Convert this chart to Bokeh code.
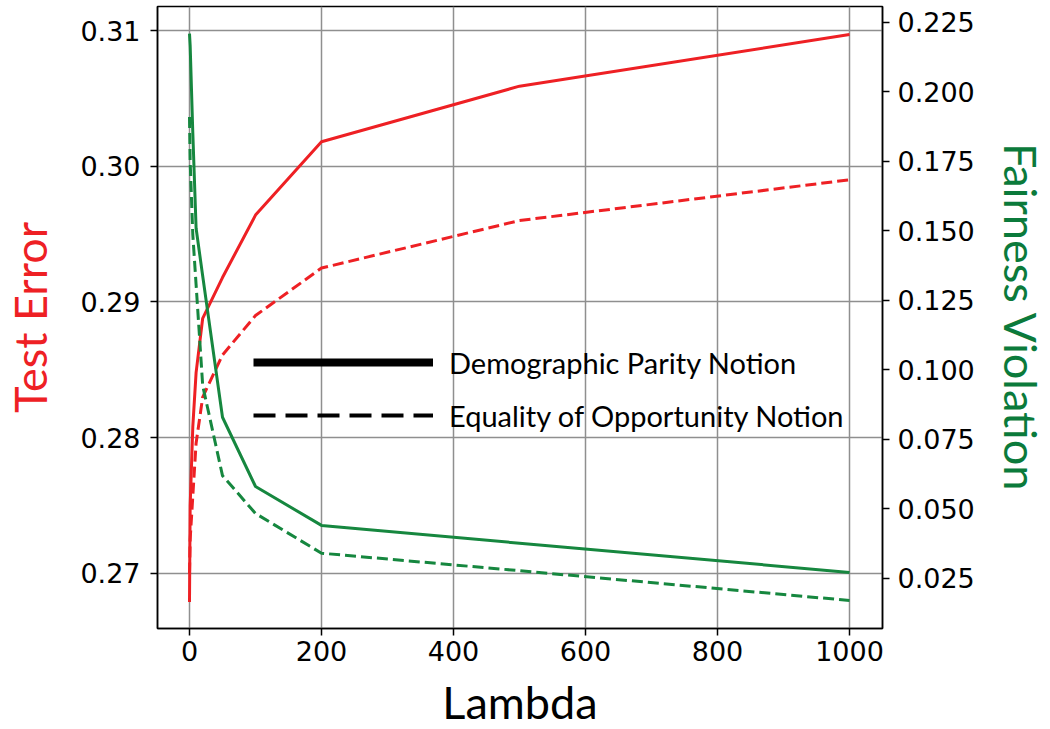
import math
from bokeh.plotting import figure
from bokeh.models import (Range1d, LinearAxis, FixedTicker, NumeralTickFormatter,
                          Legend, LegendItem)
from bokeh.embed import file_html
from bokeh.resources import INLINE

# ---- data ----
lambdas = [0, 1, 5, 10, 20, 50, 100, 200, 500, 1000]
err_dp = [0.2679, 0.2750, 0.2808, 0.2848, 0.2888, 0.2918, 0.2964, 0.3018, 0.3059, 0.3097]
err_eo = [0.2700, 0.2725, 0.2757, 0.2796, 0.2830, 0.2861, 0.2890, 0.2925, 0.2960, 0.2990]
fv_dp = [0.2210, 0.2167, 0.1854, 0.1510, 0.1338, 0.0830, 0.0581, 0.0441, 0.0377, 0.0272]
fv_eo = [0.1910, 0.1750, 0.1487, 0.1307, 0.0944, 0.0620, 0.0484, 0.0341, 0.0278, 0.0171]

x_ticks = [0, 200, 400, 600, 800, 1000]
err_ticks = [0.27, 0.28, 0.29, 0.30, 0.31]
fv_ticks = [0.025, 0.050, 0.075, 0.100, 0.125, 0.150, 0.175, 0.200, 0.225]

legend_labels = ["Demographic Parity Notion", "Equality of Opportunity Notion"]
x_title = "Lambda"
left_title = "Test Error"
right_title = "Fairness Violation"

RED = "#ee2024"
GREEN = "#16873f"
GREEN_TXT = "#0b7a3b"
TICK_FONT = "DejaVu Sans"
TITLE_FONT = "Lato"
NAN = float("nan")

p = figure(frame_width=725, frame_height=622,
           x_range=Range1d(-48.48, 1050.0),
           y_range=Range1d(0.265948, 0.311768),
           output_backend="svg", toolbar_location=None,
           min_border_left=157, min_border_right=160,
           min_border_top=6, min_border_bottom=101)
p.extra_y_ranges = {"fv": Range1d(0.007014, 0.230755)}

p.outline_line_color = "black"
p.outline_line_width = 1.5
p.background_fill_color = "white"
p.border_fill_color = "white"

# axes
p.xaxis[0].ticker = FixedTicker(ticks=x_ticks)
p.xaxis[0].formatter = NumeralTickFormatter(format="0")
p.xaxis[0].major_label_standoff = 5
p.xaxis[0].axis_label = x_title
p.xaxis[0].axis_label_standoff = 11
p.xaxis[0].axis_label_text_color = "black"

p.yaxis[0].ticker = FixedTicker(ticks=err_ticks)
p.yaxis[0].formatter = NumeralTickFormatter(format="0.00")
p.yaxis[0].major_label_standoff = 10
p.yaxis[0].axis_label = left_title
p.yaxis[0].axis_label_standoff = 20
p.yaxis[0].axis_label_text_color = RED

right_axis = LinearAxis(y_range_name="fv", ticker=FixedTicker(ticks=fv_ticks),
                        formatter=NumeralTickFormatter(format="0.000"))
right_axis.major_label_standoff = 8
right_axis.axis_label = right_title
right_axis.axis_label_standoff = 16
right_axis.axis_label_text_color = GREEN_TXT
p.add_layout(right_axis, "right")

for ax in p.xaxis + p.yaxis:
    ax.major_tick_out = 7
    ax.major_tick_in = 0
    ax.minor_tick_out = 0
    ax.minor_tick_in = 0
    ax.major_tick_line_width = 1.5
    ax.axis_line_width = 1.5
    ax.major_label_text_font = TICK_FONT
    ax.major_label_text_font_size = "27px"
    ax.major_label_text_color = "black"
    ax.axis_label_text_font = TITLE_FONT
    ax.axis_label_text_font_size = "45px"
    ax.axis_label_text_font_style = "normal"

p.xgrid.ticker = FixedTicker(ticks=x_ticks)
p.ygrid.ticker = FixedTicker(ticks=err_ticks)
for g in (p.xgrid[0], p.ygrid[0]):
    g.grid_line_color = "#8f8f8f"
    g.grid_line_width = 1.5

# data lines
p.line(lambdas, err_dp, line_color=RED, line_width=3)
p.line(lambdas, err_eo, line_color=RED, line_width=3, line_dash="11 5")
p.line(lambdas, fv_dp, line_color=GREEN, line_width=3, y_range_name="fv")
p.line(lambdas, fv_eo, line_color=GREEN, line_width=3, line_dash="11 5", y_range_name="fv")

# legend proxies (nothing drawn in the plot area)
r_solid = p.line([NAN], [NAN], line_color="black", line_width=8)
r_dash = p.line([NAN], [NAN], line_color="black", line_width=4, line_dash="22 10")
legend = Legend(items=[LegendItem(label=legend_labels[0], renderers=[r_solid]),
                       LegendItem(label=legend_labels[1], renderers=[r_dash])],
                location=(96, 193), padding=0, margin=0,
                glyph_width=180, glyph_height=40, label_height=40, spacing=13,
                label_standoff=16,
                label_text_font=TITLE_FONT, label_text_font_size="29px",
                label_text_color="black",
                border_line_alpha=0, background_fill_alpha=0)
p.add_layout(legend, "center")

open("out.html", "w").write(file_html(p, INLINE))
